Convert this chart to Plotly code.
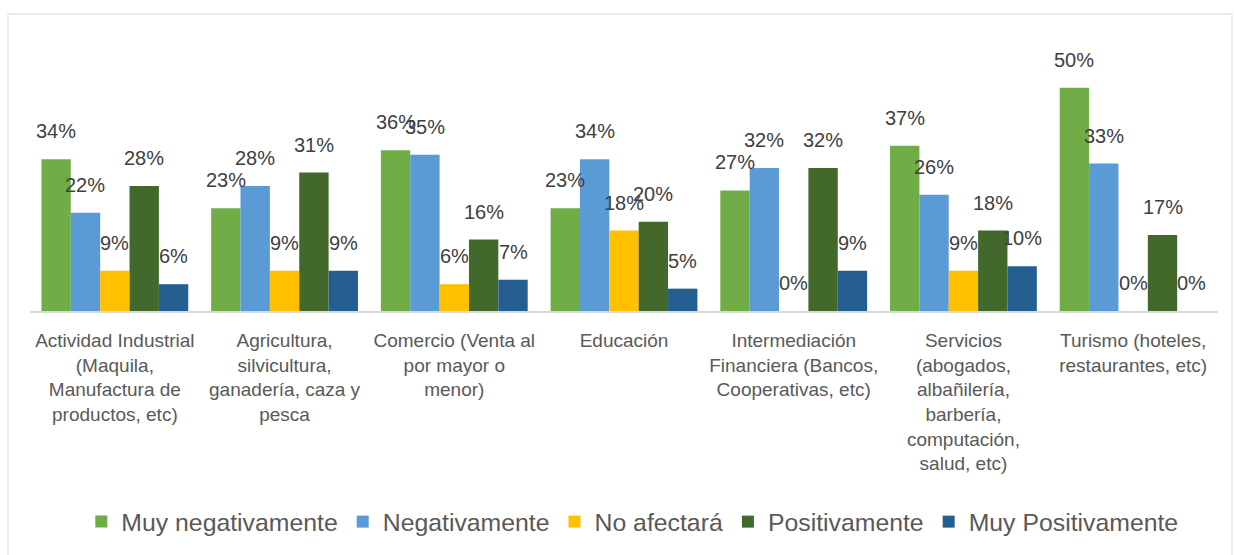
import plotly.graph_objects as go

categories = [
    "Actividad Industrial<br>(Maquila,<br>Manufactura de<br>productos, etc)",
    "Agricultura,<br>silvicultura,<br>ganadería, caza y<br>pesca",
    "Comercio (Venta al<br>por mayor o<br>menor)",
    "Educación",
    "Intermediación<br>Financiera (Bancos,<br>Cooperativas, etc)",
    "Servicios<br>(abogados,<br>albañilería,<br>barbería,<br>computación,<br>salud, etc)",
    "Turismo (hoteles,<br>restaurantes, etc)",
]
series_names = ["Muy negativamente", "Negativamente", "No afectará", "Positivamente", "Muy Positivamente"]
muy_negativamente = [0.34, 0.23, 0.36, 0.23, 0.27, 0.37, 0.50]
negativamente = [0.22, 0.28, 0.35, 0.34, 0.32, 0.26, 0.33]
no_afectara = [0.09, 0.09, 0.06, 0.18, 0.00, 0.09, 0.00]
positivamente = [0.28, 0.31, 0.16, 0.20, 0.32, 0.18, 0.17]
muy_positivamente = [0.06, 0.09, 0.07, 0.05, 0.09, 0.10, 0.00]
series_values = [muy_negativamente, negativamente, no_afectara, positivamente, muy_positivamente]
colors = ["#70AD47", "#5B9BD5", "#FFC000", "#43682B", "#255E91"]

W, H = 1234, 555
ML, MR, MT, MB = 30, 16, 43, 244
BARGAP = 0.135
plot_w = W - ML - MR
plot_h = H - MT - MB
bar_px = plot_w / len(categories) * (1 - BARGAP) / len(series_names)

fig = go.Figure()
annotations = []
for i, (name, vals, col) in enumerate(zip(series_names, series_values, colors)):
    fig.add_trace(go.Bar(
        x=categories, y=vals, name=name,
        marker=dict(color=col, line=dict(width=0)),
        hoverinfo="skip",
    ))
    for c, v in zip(categories, vals):
        annotations.append(dict(
            x=c, y=v, xref="x", yref="y",
            text=f"{round(v*100):d}%", showarrow=False,
            xanchor="center", yanchor="bottom",
            xshift=(i - 2) * bar_px, yshift=15,
            font=dict(family="Liberation Sans", size=20, color="#404040"),
        ))

# chart border (light gray)
x0 = (8 - ML) / plot_w
x1 = (1232 - ML) / plot_w
y1 = (H - MB - 14) / plot_h
y0 = (H - MB - 600) / plot_h

fig.update_layout(
    width=W, height=H,
    margin=dict(l=ML, r=MR, t=MT, b=MB, autoexpand=False),
    paper_bgcolor="white", plot_bgcolor="white",
    barmode="group", bargap=BARGAP, bargroupgap=0,
    font=dict(family="Liberation Sans", color="#404040"),
    xaxis=dict(
        showgrid=False, showline=True, linecolor="#D9D9D9", linewidth=2,
        ticks="", ticklabelstandoff=11, automargin=False,
        tickfont=dict(family="Liberation Sans", size=19, color="#595959"),
        fixedrange=True,
    ),
    yaxis=dict(range=[0, 0.6], visible=False, fixedrange=True, automargin=False),
    legend=dict(
        orientation="h", x=0.507, xanchor="center", y=(H - MB - 522) / plot_h, yanchor="middle",
        font=dict(family="Liberation Sans", size=24.8, color="#595959"),
        itemwidth=30, tracegroupgap=0,
    ),
    annotations=annotations,
    shapes=[dict(type="rect", xref="paper", yref="paper", x0=x0, x1=x1, y0=y0, y1=y1,
                 line=dict(color="#D9D9D9", width=1), layer="below")],
    showlegend=True,
)

fig.write_html(
    "out.html",
    config={"displayModeBar": False},
    post_script="document.body.style.margin='0';document.body.style.overflow='hidden';",
)
